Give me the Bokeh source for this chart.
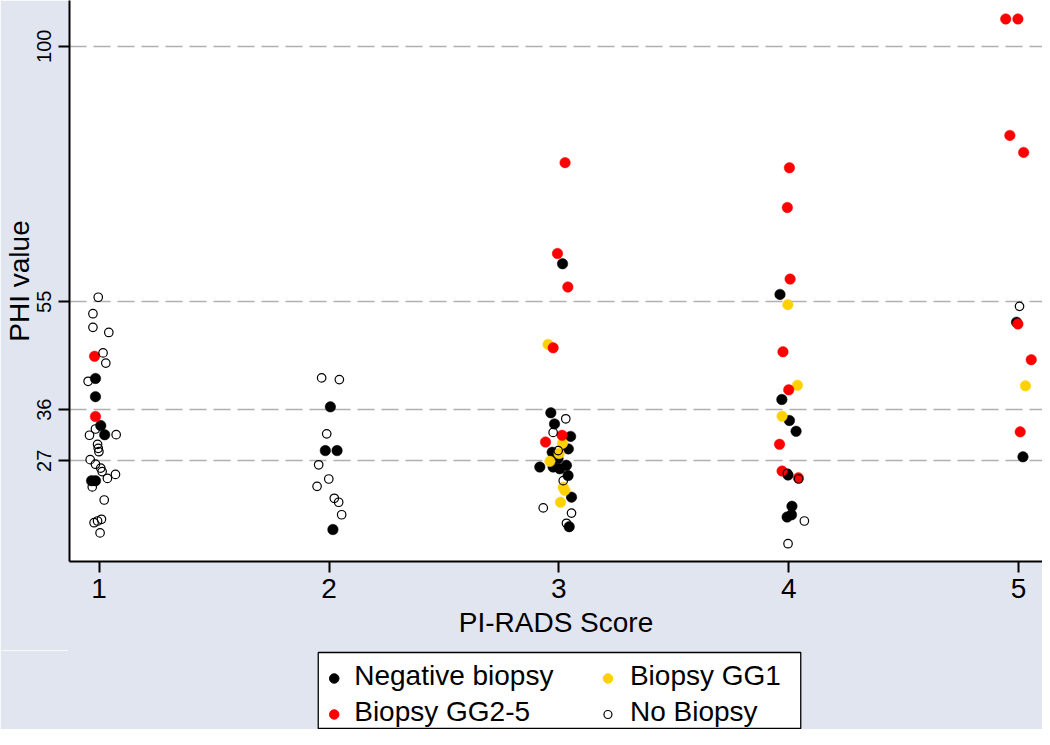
from bokeh.plotting import figure
from bokeh.layouts import column
from bokeh.models import Range1d, FixedTicker
from bokeh.core.properties import value
from bokeh.embed import file_html
from bokeh.resources import INLINE

# ---------------- data ----------------
x_ticks = [1, 2, 3, 4, 5]
y_ticks = [27, 36, 55, 100]

neg_x = [0.984, 0.984, 1.007, 1.024, 0.967, 0.984,
         2.006, 1.984, 2.035, 2.017,
         3.016, 2.965, 2.981, 3.051, 3.041, 2.971, 2.917, 2.975, 3.004, 3.033, 3.040, 2.996, 3.055, 3.045,
         3.962, 3.970, 4.003, 4.032, 3.997, 4.014, 3.993, 4.012,
         4.991, 5.019]
neg_y = [41.5, 38.3, 33.2, 31.6, 23.5, 23.5,
         36.5, 28.8, 28.8, 14.9,
         61.7, 35.45, 33.5, 31.3, 29.1, 28.5, 25.9, 25.9, 25.6, 26.2, 24.4, 27.4, 20.6, 15.4,
         56.3, 37.8, 34.1, 32.2, 24.5, 19.0, 17.1, 17.5,
         51.4, 27.7]

gg1_x = [2.953, 3.016, 3.001, 2.961, 3.019, 3.026, 3.007,
         3.996, 4.038, 3.971,
         5.030]
gg1_y = [47.5, 30.1, 28.3, 26.9, 22.35, 21.8, 19.7,
         54.5, 40.3, 34.85,
         40.2]

gg25_x = [0.980, 0.984,
          3.027, 2.994, 3.039, 2.975, 2.942, 3.014,
          4.003, 3.994, 4.006, 3.975, 4.000, 3.960, 3.971, 4.042,
          4.944, 4.997, 4.962, 5.022, 4.997, 5.055, 5.007]
gg25_y = [45.4, 34.8,
          79.5, 63.5, 57.6, 46.9, 30.3, 31.5,
          78.6, 71.6, 59.0, 46.2, 39.5, 29.9, 25.2, 24.0,
          104.8, 104.8, 84.3, 81.3, 51.1, 44.8, 32.1]

nob_x = [0.996, 0.973, 0.973, 1.042, 1.017, 1.029, 0.952, 0.984, 0.958, 1.074,
         0.993, 0.996, 0.999, 0.961, 0.984, 1.007, 1.013, 1.071, 1.036, 0.970,
         1.022, 0.978, 0.993, 1.010, 1.004,
         1.968, 2.045, 1.990, 1.955, 1.999, 1.948, 2.023, 2.042, 2.055,
         3.030, 2.975, 2.997, 3.019, 2.932, 3.055, 3.033,
         3.994, 4.043, 4.068, 3.997,
         5.004]
nob_y = [55.8, 52.9, 50.5, 49.6, 46.0, 44.2, 41.0, 32.6, 31.5, 31.6,
         29.9, 29.2, 28.6, 27.2, 26.4, 25.7, 25.1, 24.6, 23.9, 22.4,
         20.1, 16.1, 16.4, 16.7, 14.3,
         41.6, 41.3, 31.75, 26.3, 23.8, 22.5, 20.4, 19.7, 17.5,
         34.4, 32.0, 28.8, 23.5, 18.7, 17.8, 16.0,
         24.8, 23.8, 16.4, 12.4,
         54.2]

labels = ["Negative biopsy", "Biopsy GG1", "Biopsy GG2-5", "No Biopsy"]
legend_colors = ["black", "#ffd100", "#ff0000", None]

# ---------------- styling ----------------
BG = "#e0e5f0"
YELLOW = "#ffd100"
RED = "#ff0000"
FONT = "Liberation Sans"
W = 1042
H1 = 650

p = figure(width=W, height=H1, output_backend="svg", toolbar_location=None,
           x_range=Range1d(0.871, 5.104), y_range=Range1d(9.27, 108.05),
           min_border_left=68, min_border_right=0, min_border_top=0,
           min_border_bottom=H1 - 561)
p.background_fill_color = "white"
p.border_fill_color = BG
p.outline_line_color = None

p.xaxis.ticker = FixedTicker(ticks=x_ticks)
p.yaxis.ticker = FixedTicker(ticks=y_ticks)
p.xgrid.visible = False
p.ygrid.grid_line_color = "#b0b0b0"
p.ygrid.grid_line_width = 1.6
p.ygrid.grid_line_dash = "17 7"

for ax in (p.xaxis, p.yaxis):
    ax.axis_line_width = 2
    ax.axis_line_color = "black"
    ax.major_tick_line_width = 2
    ax.major_tick_line_color = "black"
    ax.major_tick_out = 11
    ax.major_tick_in = 0
    ax.minor_tick_out = 0
    ax.minor_tick_in = 0
    ax.major_label_text_font = FONT
    ax.major_label_text_color = "black"
    ax.axis_label_text_font = FONT
    ax.axis_label_text_font_size = "28px"
    ax.axis_label_text_font_style = "normal"
    ax.axis_label_text_color = "black"

p.xaxis.axis_label = "PI-RADS Score"
p.yaxis.axis_label = "PHI value"
p.xaxis.major_label_text_font_size = "28px"
p.xaxis.major_label_standoff = 6
p.xaxis.axis_label_standoff = 6
p.yaxis.major_label_text_font_size = "20px"
p.yaxis.major_label_orientation = "vertical"
p.yaxis.major_label_standoff = 7
p.yaxis.axis_label_standoff = 0

p.scatter(neg_x, neg_y, size=10.5, fill_color="black", line_color="black", line_width=0.5)
p.scatter(gg1_x, gg1_y, size=10.5, fill_color=YELLOW, line_color=YELLOW, line_width=0.5)
p.scatter(gg25_x, gg25_y, size=10.5, fill_color=RED, line_color=RED, line_width=0.5)
p.scatter(nob_x, nob_y, size=8.5, fill_color=None, line_color="black", line_width=1.2)

# ---------------- legend strip (second figure, pixel-like coordinates) ----------------
p2 = figure(width=W, height=729 - H1, output_backend="svg", toolbar_location=None,
            x_range=Range1d(68, W), y_range=Range1d(729, H1),
            x_axis_location=None, y_axis_location=None,
            min_border_left=0, min_border_right=0, min_border_top=0, min_border_bottom=0)
p2.background_fill_color = BG
p2.background_fill_alpha = 1.0
p2.border_fill_color = BG
p2.outline_line_color = BG
p2.outline_line_width = 3
p2.grid.visible = False

# legend box
p2.quad(left=[317], right=[800], top=[652], bottom=[728],
        fill_color="white", line_color="black", line_width=1.3)
# legend swatches: columns at 333 / 607, rows at 678 / 714
sw_x = [333, 607, 333, 607]
sw_y = [678, 678, 714, 714]
p2.scatter(sw_x[:3], sw_y[:3], size=9.5,
           fill_color=legend_colors[:3], line_color=legend_colors[:3])
p2.scatter(sw_x[3:], sw_y[3:], size=8, fill_color=None, line_color="black", line_width=1.2)
p2.text([353, 629, 353, 629], [675, 675, 711, 711], text=labels,
        text_font=value(FONT), text_font_size=value("28px"), text_color="black",
        text_baseline="alphabetic", text_align="left")

layout = column(p, p2, spacing=0)
open("out.html", "w").write(file_html(layout, INLINE))
